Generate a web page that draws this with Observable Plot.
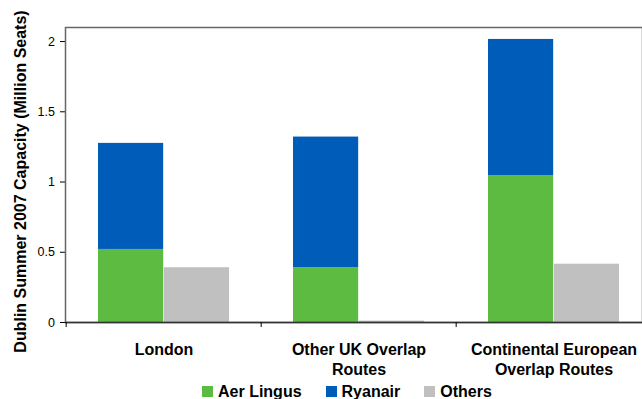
<!DOCTYPE html>
<html>
<head>
<meta charset="utf-8">
<script src="https://cdn.jsdelivr.net/npm/d3@7"></script>
<script src="https://cdn.jsdelivr.net/npm/@observablehq/plot@0.6"></script>
<style>
  html, body { margin: 0; padding: 0; background: #fff; overflow: hidden; }
  #wrap { position: relative; width: 642px; height: 399px; }
  #legend { position: absolute; left: 202px; top: 384px; font: bold 16px "Liberation Sans", Arial, sans-serif; line-height: 16px; white-space: nowrap; color: #000; }
  #legend .item { display: inline-block; margin-right: 24px; }
  #legend .sw { display: inline-block; width: 11px; height: 11px; margin-right: 5px; vertical-align: baseline; }
</style>
</head>
<body>
<div id="wrap"></div>
<script>
const categories = ["London", "Other UK Overlap Routes", "Continental European Overlap Routes"];
const categoryLabels = ["London", "Other UK Overlap\nRoutes", "Continental European\nOverlap Routes"];
const seriesNames = ["Aer Lingus", "Ryanair", "Others"];
const seriesColors = ["#5DBB41", "#005CB9", "#C0C0C0"];
const aerLingus = [0.52, 0.39, 1.045];
const ryanair = [0.755, 0.93, 0.97];
const others = [0.39, 0.01, 0.415];
const yTicks = [0, 0.5, 1, 1.5, 2];
const yLabel = "Dublin Summer 2007 Capacity (Million Seats)";

const stacked = [];
categories.forEach((c, i) => {
  stacked.push({category: c, series: "Aer Lingus", value: aerLingus[i]});
  stacked.push({category: c, series: "Ryanair", value: ryanair[i]});
});
const otherRows = categories.map((c, i) => ({category: c, series: "Others", value: others[i]}));

const W = 642, H = 399;
const xRange = [65, 652];
const bw = (xRange[1] - xRange[0]) / categories.length;
const half = bw / 2;
const outer = 32;

const chart = Plot.plot({
  width: W,
  height: H,
  marginTop: 27,
  marginBottom: 77,
  marginLeft: 65,
  marginRight: 0,
  style: {fontFamily: "'Liberation Sans', Arial, sans-serif", fontSize: "12.5px", color: "#000", background: "#fff", overflow: "visible"},
  x: {domain: categories, range: xRange, padding: 0, axis: null},
  y: {domain: [0, 2.1], ticks: yTicks, tickSize: 5, tickPadding: 5.5, label: null, line: true, tickFormat: d => String(d)},
  color: {domain: seriesNames, range: seriesColors},
  marks: [
    Plot.barY(stacked, {x: "category", y: "value", fill: "series", insetLeft: outer, insetRight: half}),
    Plot.barY(otherRows, {x: "category", y: "value", fill: "series", insetLeft: half, insetRight: outer}),
    Plot.frame({stroke: "#666", strokeWidth: 1.5}),
    Plot.ruleY([0], {stroke: "#333", strokeWidth: 1.5}),
    Plot.ruleX(categories, {x: d => d, y1: 0, y2: -0.036, dx: -half, stroke: "#000"}),
    Plot.text(categories, {x: d => d, text: (d, i) => categoryLabels[i], frameAnchor: "bottom", lineAnchor: "top", dy: 19, lineHeight: 1.22, fontSize: 16, fontWeight: "bold", fill: "#000"}),
    Plot.text([yLabel], {text: d => d, frameAnchor: "left", textAnchor: "middle", lineAnchor: "middle", rotate: -90, dx: -44.5, dy: 6.5, fontSize: 16, fontWeight: "bold", fill: "#000"})
  ]
});
document.getElementById("wrap").appendChild(chart);

const legend = document.createElement("div");
legend.id = "legend";
seriesNames.forEach((n, i) => {
  const item = document.createElement("span");
  item.className = "item";
  const sw = document.createElement("span");
  sw.className = "sw";
  sw.style.background = seriesColors[i];
  item.appendChild(sw);
  item.appendChild(document.createTextNode(n));
  legend.appendChild(item);
});
document.getElementById("wrap").appendChild(legend);
</script>
</body>
</html>
